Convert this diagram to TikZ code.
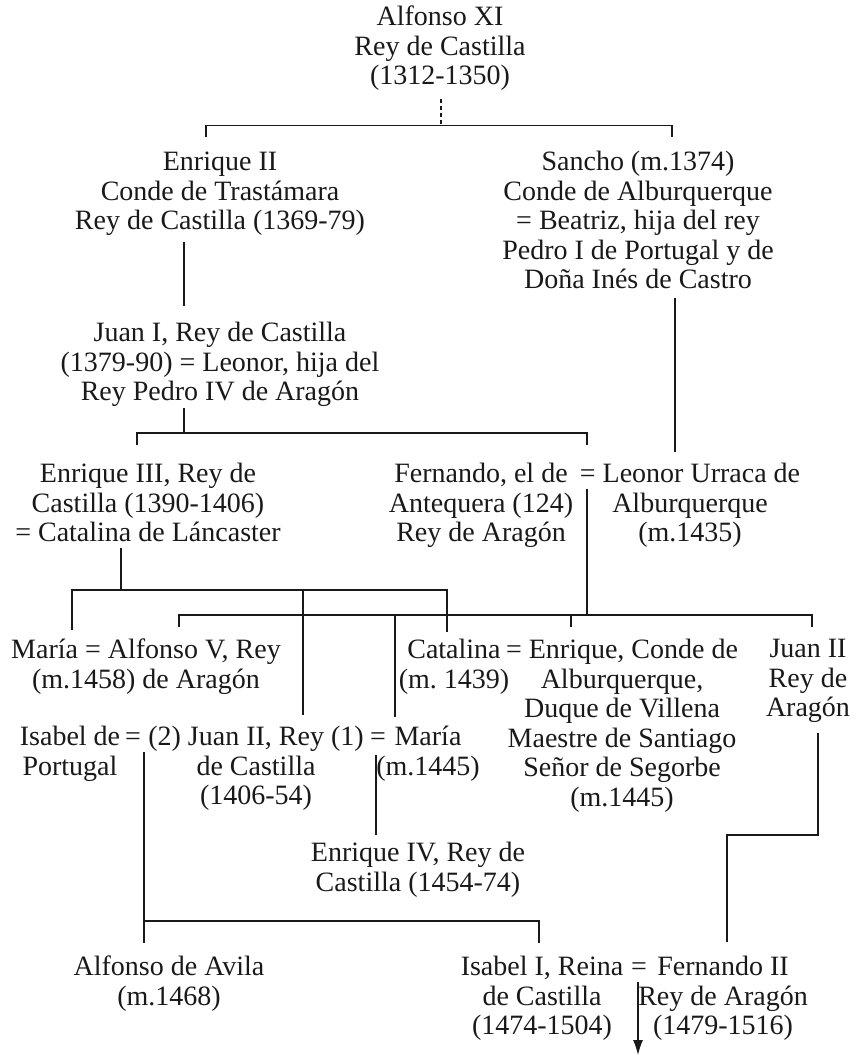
\documentclass[tikz,border=0pt]{standalone}
\usepackage{fontspec}
\setmainfont{Liberation Serif}
\usetikzlibrary{arrows.meta}
\begin{document}
\begin{tikzpicture}[x=1pt,y=-1pt,
  person/.style={anchor=north,inner sep=0pt,align=center,text=black!90,
    font=\fontsize{28}{29.5}\selectfont},
  link/.style={line width=1.2pt,black!90},
  boldlink/.style={line width=1.7pt,black!90},
  dashlink/.style={line width=1.2pt,black!90,dash pattern=on 4pt off 3pt}]
\useasboundingbox (0,0) rectangle (861,1057);
% ---- nodes (north = first line centre - 12) ----
\node[person] (alf) at (440,5) {\strut Alfonso XI\\Rey de Castilla\\(1312-1350)};
\node[person] (enr2) at (220,150) {\strut Enrique II\\Conde de Trastámara\\Rey de Castilla (1369-79)};
\node[person] (sancho) at (638,150) {\strut Sancho (m.1374)\\Conde de Alburquerque\\= Beatriz, hija del rey\\Pedro I de Portugal y de\\Doña Inés de Castro};
\node[person] (juan1) at (220,321) {\strut Juan I, Rey de Castilla\\(1379-90) = Leonor, hija del\\Rey Pedro IV de Aragón};
\node[person] (enr3) at (148,462) {\strut Enrique III, Rey de\\Castilla (1390-1406)\\= Catalina de Láncaster};
\node[person] (fern) at (481,462) {\strut Fernando, el de\\Antequera (124)\\Rey de Aragón};
\node[person] (leonor) at (690,462) {\strut = Leonor Urraca de\\Alburquerque\\(m.1435)};
\node[person] (maria1) at (146,638) {\strut María = Alfonso V, Rey\\(m.1458) de Aragón};
\node[person] (catalina) at (454,638) {\strut Catalina\\(m.\ 1439)};
\node[person] (enralb) at (622,638) {\strut = Enrique, Conde de\\Alburquerque,\\Duque de Villena\\Maestre de Santiago\\Señor de Segorbe\\(m.1445)};
\node[person] (juan2ar) at (808,637) {\strut Juan II\\Rey de\\Aragón};
\node[person] (isaport) at (70,725) {\strut Isabel de\\Portugal};
\node[person] (eqa) at (133,725) {\strut =};
\node[person] (juan2) at (256,725) {\strut (2) Juan II, Rey (1)\\de Castilla\\(1406-54)};
\node[person] (eqb) at (378,725) {\strut =};
\node[person] (maria2) at (428,725) {\strut María\\(m.1445)};
\node[person] (enr4) at (418,841) {\strut Enrique IV, Rey de\\Castilla (1454-74)};
\node[person] (avila) at (169,955) {\strut Alfonso de Avila\\(m.1468)};
\node[person] (isa1) at (542,955) {\strut Isabel I, Reina\\de Castilla\\(1474-1504)};
\node[person] (eqc) at (639,955) {\strut =};
\node[person] (fern2) at (723,955) {\strut Fernando II\\Rey de Aragón\\(1479-1516)};
% ---- junction coordinates ----
\coordinate (a0) at (441,99);
\coordinate (a1) at (441,125.5);
\coordinate (tEII) at (206,137);
\coordinate (tSan) at (672,137);
\coordinate (e2a) at (184,242);
\coordinate (e2b) at (184,306);
\coordinate (j1a) at (184,408);
\coordinate (j1b) at (184,433);
\coordinate (tE3) at (137,445);
\coordinate (tFe) at (587,445);
\coordinate (sa0) at (675,298);
\coordinate (sa1) at (675,452);
\coordinate (e3a) at (121,548);
\coordinate (e3b) at (121,590);
\coordinate (tMa) at (72,630);
\coordinate (tCa) at (447,632);
\coordinate (jc0) at (303,590);
\coordinate (jc1) at (303,715);
\coordinate (fe0) at (587,489);
\coordinate (fe1) at (587,615);
\coordinate (tAl) at (179,627);
\coordinate (tJA) at (812,627);
\coordinate (en0) at (571,615);
\coordinate (en1) at (571,627);
\coordinate (mb0) at (395,615);
\coordinate (mb1) at (395,717);
\coordinate (ja0) at (818,733);
\coordinate (ja1) at (727,835);
\coordinate (ja2) at (727,942);
\coordinate (m20) at (376,755);
\coordinate (m21) at (376,835);
\coordinate (ip0) at (144,752);
\coordinate (ip1) at (144,921);
\coordinate (ip2) at (144,943);
\coordinate (tIs) at (539,943);
\coordinate (ar0) at (638,982);
\coordinate (ar1) at (638,1055);
% ---- connectors ----
\draw[dashlink] (a0) -- (a1);
\draw[link] (tEII) |- (a1) -| (tSan);
\draw[link] (e2a) -- (e2b);
\draw[link] (j1a) -- (j1b);
\draw[link] (tE3) |- (j1b) -| (tFe);
\draw[link] (sa0) -- (sa1);
\draw[link] (e3a) -- (e3b);
\draw[link] (tMa) |- (e3b) -| (tCa);
\draw[link] (jc0) -- (jc1);
\draw[boldlink] (fe0) -- (fe1);
\draw[boldlink] (tAl) |- (fe1) -| (tJA);
\draw[boldlink] (en0) -- (en1);
\draw[boldlink] (mb0) -- (mb1);
\draw[boldlink] (ja0) |- (ja1) -- (ja2);
\draw[link] (m20) -- (m21);
\draw[link] (ip0) -- (ip2);
\draw[link] (ip1) -| (tIs);
\draw[link,-{Latex[length=15pt,width=10pt]}] (ar0) -- (ar1);
\end{tikzpicture}
\end{document}
